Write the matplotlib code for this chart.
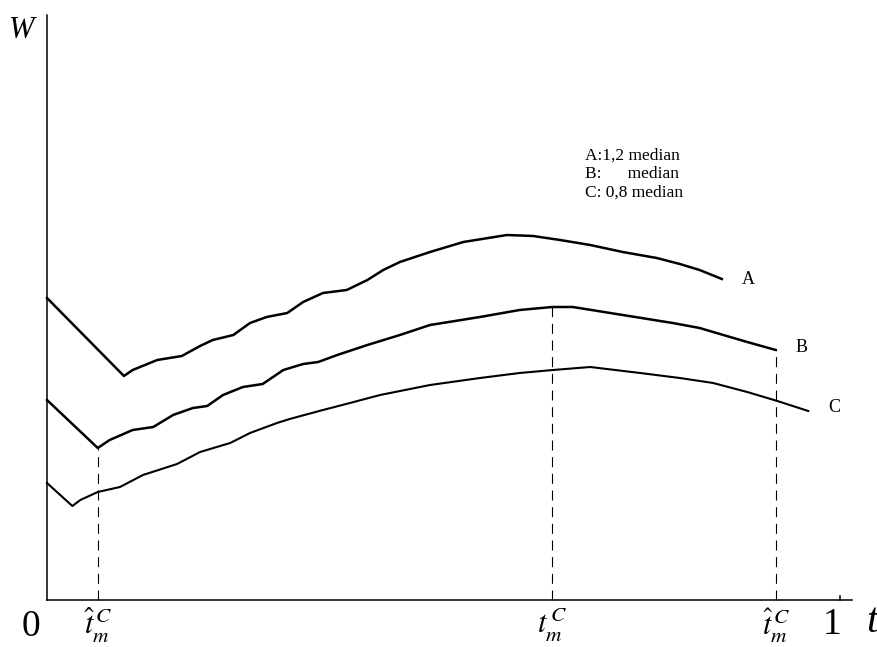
import numpy as np
import matplotlib
matplotlib.use("Agg")
import matplotlib.pyplot as plt

plt.rcParams['font.family'] = ['Liberation Serif', 'DejaVu Serif']
plt.rcParams['mathtext.fontset'] = 'stix'

# curve A (1,2 median)
t_a = [0.000, 0.097, 0.108, 0.139, 0.170, 0.193, 0.209, 0.235, 0.256, 0.277,
       0.303, 0.323, 0.348, 0.378, 0.404, 0.424, 0.445, 0.483, 0.525, 0.580,
       0.613, 0.647, 0.685, 0.726, 0.769, 0.798, 0.823, 0.851]
w_a = [3.02, 2.24, 2.30, 2.40, 2.44, 2.54, 2.60, 2.65, 2.77, 2.83,
       2.87, 2.98, 3.07, 3.10, 3.20, 3.30, 3.38, 3.48, 3.58, 3.65,
       3.64, 3.60, 3.55, 3.48, 3.42, 3.36, 3.30, 3.21]

# curve B (median)
t_b = [0.000, 0.064, 0.079, 0.108, 0.134, 0.159, 0.184, 0.202, 0.222, 0.247,
       0.272, 0.298, 0.323, 0.342, 0.366, 0.404, 0.445, 0.483, 0.546, 0.596,
       0.637, 0.663, 0.726, 0.789, 0.823, 0.840, 0.883, 0.919]
w_b = [2.00, 1.52, 1.60, 1.70, 1.73, 1.85, 1.92, 1.94, 2.05, 2.13,
       2.16, 2.30, 2.36, 2.38, 2.45, 2.55, 2.65, 2.75, 2.83, 2.90,
       2.93, 2.93, 2.85, 2.77, 2.72, 2.68, 2.58, 2.50]

# curve C (0,8 median)
t_c = [0.000, 0.032, 0.042, 0.064, 0.092, 0.121, 0.164, 0.193, 0.231, 0.256,
       0.290, 0.306, 0.348, 0.382, 0.420, 0.483, 0.546, 0.596, 0.638, 0.685,
       0.748, 0.798, 0.840, 0.883, 0.921, 0.960]
w_c = [1.17, 0.94, 1.00, 1.08, 1.13, 1.25, 1.36, 1.48, 1.57, 1.67,
       1.77, 1.81, 1.90, 1.97, 2.05, 2.15, 2.22, 2.27, 2.30, 2.33,
       2.27, 2.22, 2.17, 2.08, 1.99, 1.89]

# marked times on curve B (index into t_b)
mark_idx = [1, 20, 27]
mark_labels = [r'$\hat{t}_m^{\,C}$', r'$t_m^{\,C}$', r'$\widehat{t}_m^{\,C}$']

legend_lines = ['A:1,2 median', 'B:      median', 'C: 0,8 median']

fig = plt.figure(figsize=(8.78, 6.47), dpi=100)
ax = fig.add_axes([0, 0, 1, 1])
ax.set_xlim(-47 / 793, 831 / 793)
ax.set_ylim(-0.47, 6.0)
ax.axis('off')

# axes drawn by hand
ax.plot([0, 0], [0, 5.85], color='black', lw=1.1)
ax.plot([0, 1.015], [0, 0], color='black', lw=1.1)
ax.plot([1.0, 1.0], [0, 0.04], color='black', lw=1.1)

for t, w, lw in [(t_a, w_a, 1.8), (t_b, w_b, 1.8), (t_c, w_c, 1.5)]:
    ax.plot(t, w, color='black', lw=lw)

for i, lab in zip(mark_idx, mark_labels):
    ax.plot([t_b[i], t_b[i]], [0, w_b[i]], color='black', lw=0.8,
            dashes=(9, 6))
    ax.text(t_b[i], -0.06, lab, fontsize=22, ha='center', va='top')

ax.text(t_a[-1] + 0.025, w_a[-1], 'A', fontsize=13, va='center')
ax.text(t_b[-1] + 0.025, w_b[-1] + 0.03, 'B', fontsize=13, va='center')
ax.text(t_c[-1] + 0.025, w_c[-1] + 0.03, 'C', fontsize=13, va='center')

for k, s in enumerate(legend_lines):
    ax.text(0.678, 4.44 - 0.185 * k, s, fontsize=12.5, va='center', ha='left')

ax.text(-0.032, 5.70, 'W', fontsize=22, style='italic', ha='center', va='center')
ax.text(1.04, -0.22, 't', fontsize=30, style='italic', ha='center', va='center')
ax.text(-0.02, -0.27, '0', fontsize=27, ha='center', va='center')
ax.text(0.99, -0.25, '1', fontsize=27, ha='center', va='center')

fig.savefig('out.png', dpi=100)
